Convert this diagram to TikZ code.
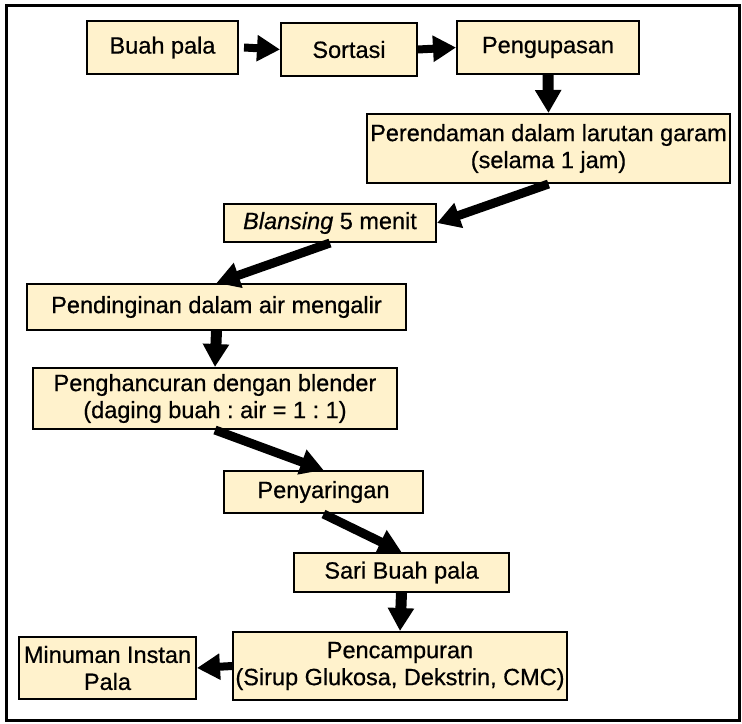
\documentclass[tikz,border=0pt]{standalone}
\usepackage{fontspec}
\setmainfont[FakeBold=0.6]{Liberation Sans}
\usetikzlibrary{arrows.meta}
\definecolor{boxfill}{RGB}{255,242,204}
\begin{document}
\frenchspacing
\begin{tikzpicture}[x=0.5pt,y=-0.5pt,
  stepbox/.style={draw=black, line width=1pt, fill=boxfill, inner sep=0pt,
    align=center, font=\fontsize{11.75pt}{13.5pt}\selectfont\frenchspacing},
  flow/.style={line width=4.5pt, -{Triangle[length=11.5pt,width=12.5pt]}},
  hflow/.style={flow, line width=4pt},
  vflow/.style={flow, line width=5.5pt}]
\useasboundingbox (0,0) rectangle (742,723);
% outer frame
\draw[line width=1.5pt] (6,5) rectangle (739,720);

% process steps
\node[stepbox, minimum width=75.5pt, minimum height=26.5pt] (buah) at (162.5,47.5) {Buah pala};
\node[stepbox, minimum width=68pt, minimum height=26.5pt] (sortasi) at (349,49.5) {Sortasi};
\node[stepbox, minimum width=91pt, minimum height=26.5pt] (kupas) at (548,47.5) {Pengupasan};
\node[stepbox, minimum width=181.5pt, minimum height=34.5pt] (rendam) at (548.5,148.5)
  {Perendaman dalam larutan garam\\(selama 1 jam)};
\node[stepbox, minimum width=106pt, minimum height=19pt] (blansing) at (330,223)
  {\textit{Blansing} 5 menit};
\node[stepbox, minimum width=189.5pt, minimum height=23pt] (dingin) at (216.5,307)
  {Pendinginan dalam air mengalir};
\node[stepbox, minimum width=182pt, minimum height=30.5pt] (hancur) at (215,398.5)
  {Penghancuran dengan blender\\(daging buah : air = 1 : 1)};
\node[stepbox, minimum width=99.5pt, minimum height=21pt] (saring) at (323.5,492) {Penyaringan};
\node[stepbox, minimum width=107.5pt, minimum height=19.5pt] (sari) at (401.5,572.5) {Sari Buah pala};
\node[stepbox, minimum width=167pt, minimum height=34pt] (campur) at (400,666)
  {Pencampuran\\(Sirup Glukosa, Dekstrin, CMC)};
\node[stepbox, minimum width=88.5pt, minimum height=31pt] (minuman) at (107.5,668)
  {Minuman Instan\\Pala};

% connectors
\draw[hflow] ([xshift=2.5pt]buah.east) -- (sortasi.west);
\draw[hflow] (sortasi.east) -- (kupas.west);
\draw[vflow] (kupas.south) -- (rendam.north);
\draw[flow] (rendam.south) -- (blansing.east);
\draw[flow] (blansing.south) -- (dingin.north);
\draw[vflow] (dingin.south) -- (hancur.north);
\draw[flow] (hancur.south) -- (saring.north);
\draw[flow] (saring.south) -- (sari.north);
\draw[vflow] (sari.south) -- (campur.north);
\draw[hflow] (campur.west) -- (minuman.east);
\end{tikzpicture}
\end{document}
